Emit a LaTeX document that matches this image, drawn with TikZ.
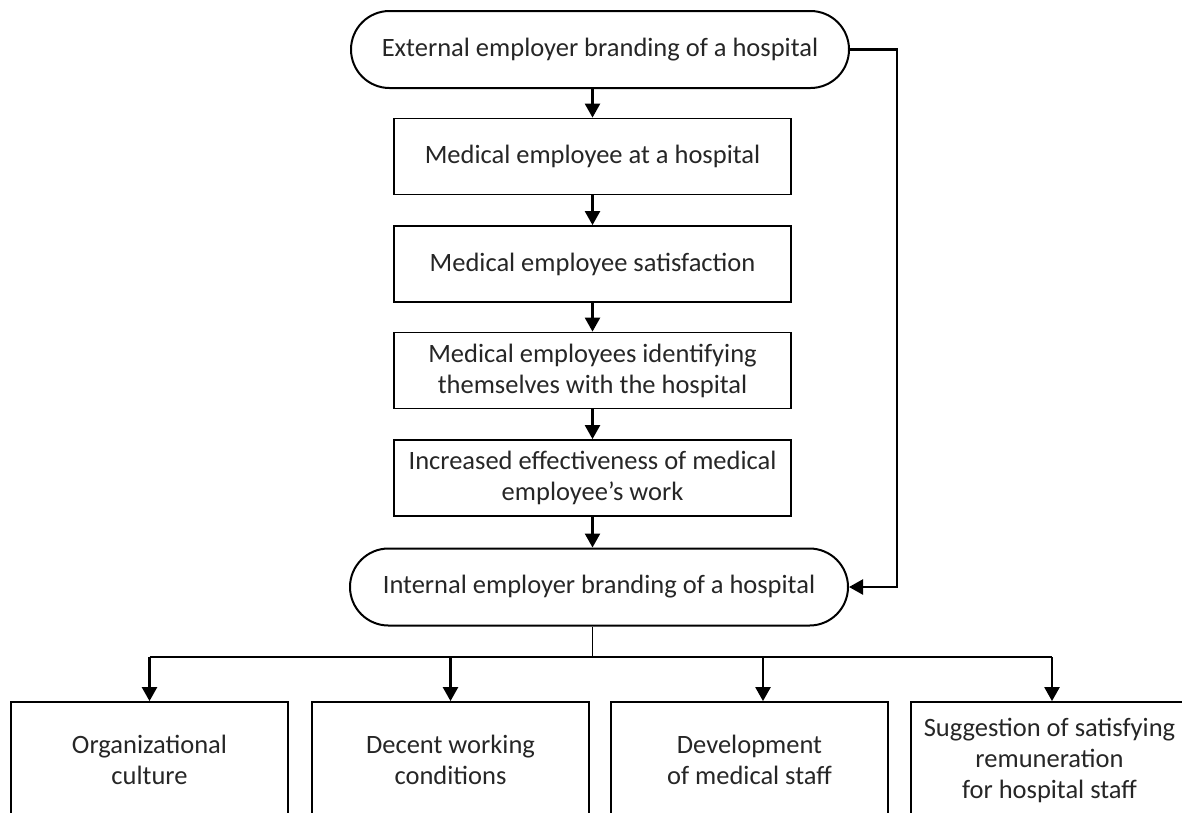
\documentclass[tikz,border=0pt]{standalone}
\usepackage{fontspec}
\setmainfont{Carlito}
\usetikzlibrary{shapes.misc,arrows.meta,calc}
\begin{document}
\begin{tikzpicture}[x=1pt,y=-1pt,
  every node/.style={font=\fontsize{26.5}{31}\selectfont, text=black!85, align=center, inner sep=0pt},
  term/.style={draw, line width=2pt, rounded rectangle, minimum width=498pt, minimum height=77pt},
  mbox/.style={draw, line width=1.8pt, rectangle, minimum width=397pt, minimum height=76pt},
  lbox/.style={draw, line width=1.8pt, rectangle, minimum width=277pt, minimum height=116pt},
  arr/.style={line width=2.4pt, -{Triangle[width=15pt,length=14pt]}},
  conn/.style={line width=2.4pt},
  thinconn/.style={line width=0.8pt}]
\useasboundingbox (0,0) rectangle (1182,812);
\clip (0,0) rectangle (1182,812);
\node[term] (t1) at (600,49.5) {External employer branding of a hospital};
\node[mbox] (b1) at (592.5,156.5) {Medical employee at a hospital};
\node[mbox] (b2) at (592.5,264) {Medical employee satisfaction};
\node[mbox] (b3) at (592.5,370.5) {Medical employees identifying\\themselves with the hospital};
\node[mbox] (b4) at (592.5,478) {Increased effectiveness of medical\\employee’s work};
\node[term] (t2) at (599,587) {Internal employer branding of a hospital};
\node[lbox] (c1) at (149.5,760) {Organizational\\culture};
\node[lbox] (c2) at (450.5,760) {Decent working\\conditions};
\node[lbox] (c3) at (749.5,760) {Development\\of medical staff};
\node[lbox] (c4) at (1049.5,760) {Suggestion of satisfying\\remuneration\\for hospital staff};
% main chain
\draw[arr] (b1.north |- t1.south) -- (b1.north);
\draw[arr] (b1.south) -- (b2.north);
\draw[arr] (b2.south) -- (b3.north);
\draw[arr] (b3.south) -- (b4.north);
\draw[arr] (b4.south) -- (b4.south |- t2.north);
% side loop
\coordinate (r1) at (897,49.5);
\coordinate (r2) at (897,587);
\draw[arr] (t1.east) -- (r1) -- (r2) -- (t2.east);
% distribution bar
\coordinate (bar) at (0,657);
\coordinate (a3) at ($(c3.north)+(13.5,0)$);
\coordinate (a4) at ($(c4.north)+(2.5,0)$);
\draw[thinconn] (b4.south |- t2.south) -- (b4.south |- bar);
\draw[conn] (c1.north |- bar) -- (a4 |- bar);
\draw[arr] (c1.north |- bar) -- (c1.north);
\draw[arr] (c2.north |- bar) -- (c2.north);
\draw[arr] (a3 |- bar) -- (a3);
\draw[arr] (a4 |- bar) -- (a4);
\end{tikzpicture}
\end{document}
